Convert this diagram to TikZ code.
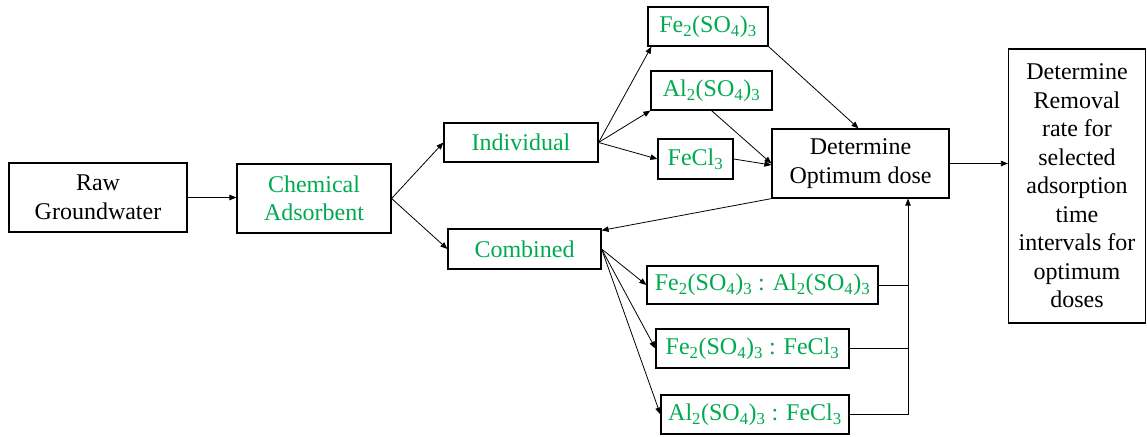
\documentclass[tikz,border=0pt]{standalone}
\usepackage{fontspec}
\newfontfamily\tnr{Liberation Serif}
\usetikzlibrary{arrows.meta,calc}
\definecolor{chemgreen}{RGB}{0,170,80}
\begin{document}
\begin{tikzpicture}[x=1pt,y=-1pt,
  box/.style={draw, line width=1.2pt, inner sep=0pt, align=center,
    font=\tnr\fontsize{24}{28.5}\selectfont},
  gbox/.style={box, text=chemgreen},
  conn/.style={line width=0.8pt, -{Triangle[length=7pt,width=5.5pt]}},
  plain/.style={line width=0.8pt}]
\useasboundingbox (0,0) rectangle (1147,436);
\node[box, minimum width=178pt, minimum height=69pt] (raw) at (98,197.5) {Raw\\Groundwater};
\node[gbox, minimum width=154pt, minimum height=69pt] (chem) at (314,198.5) {Chemical\\Adsorbent};
\node[gbox, minimum width=154pt, minimum height=39pt] (ind) at (521,142.5) {Individual};
\node[gbox, minimum width=153pt, minimum height=40pt] (comb) at (524.5,249) {Combined};
\node[gbox, minimum width=120pt, minimum height=39pt] (fe) at (708,26.5) {Fe\textsubscript{2}(SO\textsubscript{4})\textsubscript{3}};
\node[gbox, minimum width=121pt, minimum height=39pt] (al) at (711.5,90.5) {Al\textsubscript{2}(SO\textsubscript{4})\textsubscript{3}};
\node[gbox, minimum width=75pt, minimum height=40pt] (fecl) at (695.5,159) {FeCl\textsubscript{3}};
\node[box, minimum width=177pt, minimum height=69pt] (det) at (860.5,163.5) {Determine\\Optimum dose};
\node[gbox, minimum width=231pt, minimum height=38pt] (c1) at (762.5,285) {Fe\textsubscript{2}(SO\textsubscript{4})\textsubscript{3} : Al\textsubscript{2}(SO\textsubscript{4})\textsubscript{3}};
\node[gbox, minimum width=193pt, minimum height=39pt] (c2) at (752.5,348.5) {Fe\textsubscript{2}(SO\textsubscript{4})\textsubscript{3} : FeCl\textsubscript{3}};
\node[gbox, minimum width=188pt, minimum height=39pt] (c3) at (755,414.5) {Al\textsubscript{2}(SO\textsubscript{4})\textsubscript{3} : FeCl\textsubscript{3}};
\node[box, minimum width=137pt, minimum height=274pt] (final) at (1077,186) {Determine\\Removal\\rate for\\selected\\adsorption\\time\\intervals for\\optimum\\doses};
\coordinate (bus) at (908,0);
\draw[conn] (raw.east) -- (chem.west |- raw.east);
\draw[conn] (chem.east) -- (ind.west);
\draw[conn] (chem.east) -- (comb.west);
\draw[conn] (ind.east) -- ([xshift=4pt]fe.south west);
\draw[conn] (ind.east) -- (al.south west);
\draw[conn] (ind.east) -- (fecl.west);
\draw[conn] (fe.south east) -- ([xshift=-2pt]det.north);
\draw[conn] (al.south) -- (det.west);
\draw[conn] (fecl.east) -- ([yshift=-1.5pt]det.west);
\draw[conn] (det.south west) -- ([yshift=-2pt]comb.north east);
\draw[conn] (det.east) -- (det.east -| final.west);
\draw[conn] (comb.east) -- (c1.west);
\draw[conn] (comb.east) -- (c2.west);
\draw[conn] (comb.east) -- (c3.west);
\draw[plain] (c1.east) -- (c1.east -| bus);
\draw[plain] (c2.east) -- (c2.east -| bus);
\draw[conn] (c3.east) -- (c3.east -| bus) -- (bus |- det.south);
\end{tikzpicture}
\end{document}
